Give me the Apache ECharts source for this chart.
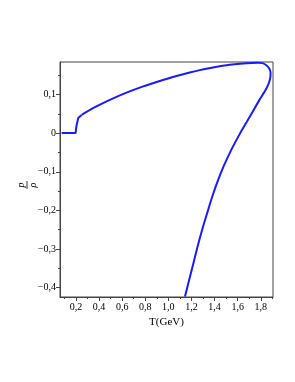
<!DOCTYPE html>
<html>
<head>
<meta charset="utf-8">
<script src="https://cdn.jsdelivr.net/npm/echarts@6/dist/echarts.min.js"></script>
<style>
html,body{margin:0;padding:0;background:#fff;}
#c{width:295px;height:382px;}
</style>
</head>
<body>
<div id="c"></div>
<script>
// Temperature T (GeV) and ratio p/rho along the curve
var temperature = [0.076, 0.197, 0.200, 0.206, 0.214, 0.220, 0.226, 0.249, 0.364, 0.494, 0.632, 0.782, 0.926, 1.070, 1.185, 1.272, 1.387, 1.531, 1.675, 1.773, 1.816, 1.851, 1.874, 1.885, 1.879, 1.850, 1.789, 1.706, 1.622, 1.547, 1.480, 1.424, 1.375, 1.331, 1.289, 1.251, 1.215, 1.179, 1.144];
var ratio = [0, 0, 0.008, 0.021, 0.024, 0.039, 0.043, 0.047, 0.067, 0.086, 0.104, 0.121, 0.135, 0.148, 0.157, 0.163, 0.170, 0.177, 0.181, 0.182, 0.181, 0.175, 0.167, 0.156, 0.138, 0.116, 0.086, 0.043, 0, -0.042, -0.085, -0.127, -0.169, -0.212, -0.254, -0.296, -0.339, -0.381, -0.423];
var xMajor = [0.2, 0.4, 0.6, 0.8, 1.0, 1.2, 1.4, 1.6, 1.8];
var xMinor = [0.1, 0.3, 0.5, 0.7, 0.9, 1.1, 1.3, 1.5, 1.7, 1.9];
var yMajor = [-0.4, -0.3, -0.2, -0.1, 0, 0.1];
var yMinor = [-0.35, -0.25, -0.15, -0.05, 0.05, 0.15];
var jumpEnd = 7; // index where the sharp jump joins the smooth branch

var xMin = 0.062, xMax = 1.906, yMin = -0.424, yMax = 0.184;

function fmt(v) {
  if (Math.abs(v) < 1e-9) return '0';
  var s = Math.abs(v).toFixed(1).replace('.', ',');
  return (v < 0 ? '\u2212' : '') + s;
}

var pts = temperature.map(function (t, i) { return [t, ratio[i]]; });
var font = 'Liberation Serif';
var axisCol = '#444';
var lineCol = '#1a1aff';

var chart = echarts.init(document.getElementById('c'), null, {renderer: 'canvas'});
chart.setOption({
  animation: false,
  backgroundColor: '#fff',
  grid: {left: 60, right: 22, top: 62, bottom: 85, show: true, borderColor: axisCol, borderWidth: 1, backgroundColor: 'transparent'},
  xAxis: [{
    type: 'value', min: xMin, max: xMax, position: 'bottom',
    name: 'T(GeV)', nameLocation: 'middle', nameGap: 16,
    nameTextStyle: {fontFamily: font, fontSize: 11, color: '#000'},
    axisLine: {show: true, onZero: false, lineStyle: {color: axisCol, width: 1}},
    axisTick: {show: true, length: 4, customValues: xMajor, lineStyle: {color: axisCol}},
    axisLabel: {show: true, customValues: xMajor, formatter: fmt, fontFamily: font, fontSize: 10, color: '#000', margin: 5},
    splitLine: {show: false}
  }, {
    type: 'value', min: xMin, max: xMax, position: 'bottom',
    axisLine: {show: false, onZero: false},
    axisTick: {show: true, length: 2, customValues: xMinor, lineStyle: {color: axisCol}},
    axisLabel: {show: false},
    splitLine: {show: false}
  }],
  yAxis: [{
    type: 'value', min: yMin, max: yMax, position: 'left',
    axisLine: {show: true, onZero: false, lineStyle: {color: axisCol, width: 1}},
    axisTick: {show: true, length: 4, customValues: yMajor, lineStyle: {color: axisCol}},
    axisLabel: {show: true, customValues: yMajor, formatter: fmt, fontFamily: font, fontSize: 10, color: '#000', margin: 4},
    splitLine: {show: false}
  }, {
    type: 'value', min: yMin, max: yMax, position: 'left',
    axisLine: {show: false, onZero: false},
    axisTick: {show: true, length: 2, customValues: yMinor, lineStyle: {color: axisCol}},
    axisLabel: {show: false},
    splitLine: {show: false}
  }],
  graphic: [{
    type: 'group', x: 27, y: 185, rotation: Math.PI / 2,
    children: [
      {type: 'text', x: 0, y: -1, style: {text: 'p', font: 'italic 10px "Liberation Serif"', fill: '#000', align: 'center', verticalAlign: 'bottom'}},
      {type: 'line', shape: {x1: -4, y1: 0, x2: 4, y2: 0}, style: {stroke: '#000', lineWidth: 0.8}},
      {type: 'text', x: 0, y: 1, style: {text: 'ρ', font: 'italic 10px "Liberation Serif"', fill: '#000', align: 'center', verticalAlign: 'top'}}
    ]
  }],
  series: [{
    type: 'line', xAxisIndex: 0, yAxisIndex: 0,
    data: pts.slice(0, jumpEnd + 1), showSymbol: false, smooth: false, clip: true,
    lineStyle: {color: lineCol, width: 2}
  }, {
    type: 'line', xAxisIndex: 0, yAxisIndex: 0,
    data: pts.slice(jumpEnd), showSymbol: false, smooth: 0.3, clip: true,
    lineStyle: {color: lineCol, width: 2}
  }]
});
</script>
</body>
</html>
